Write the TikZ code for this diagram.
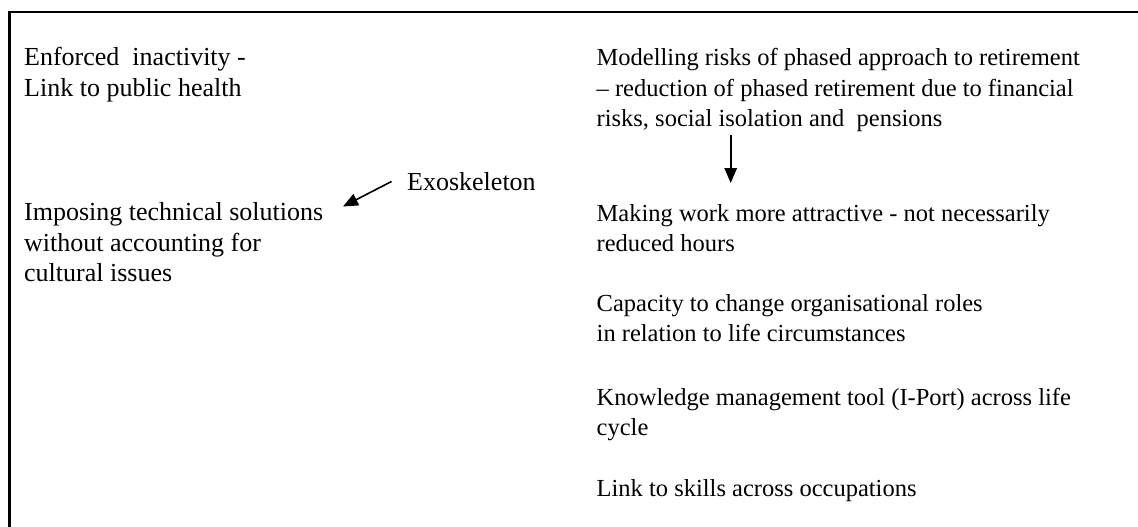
\documentclass[tikz,border=0pt]{standalone}
\usepackage{fontspec}
\setmainfont{Liberation Serif}
\usetikzlibrary{arrows.meta}
\tikzset{
  lefttxt/.style={anchor=base west, inner sep=0pt, font=\fontsize{26}{30.5}\selectfont},
  righttxt/.style={anchor=base west, inner sep=0pt, font=\fontsize{24.5}{30.5}\selectfont},
  conn/.style={line width=1.6pt, -{Triangle[length=15pt,width=12.5pt]}},
  frame/.style={line width=2.5pt}
}
\newcommand{\mlines}[1]{\begin{tabular}[t]{@{}l@{}}#1\end{tabular}}
\begin{document}
\begin{tikzpicture}[x=1pt,y=-1pt]
\useasboundingbox (0,0) rectangle (1138,527);
\begin{scope}
\clip (0,0) rectangle (1138,527);
\draw[frame] (9.5,12) rectangle (1160,550);
\end{scope}
% left column
\node[lefttxt] (enf) at (24,66) {\mlines{Enforced\ \ inactivity -\\Link to public health}};
\node[lefttxt] (imp) at (24,220.5) {\mlines{Imposing technical solutions\\without accounting for\\cultural issues}};
\node[lefttxt] (exo) at (407,190) {Exoskeleton};
% right column
\node[righttxt] (mod) at (596.5,66) {\mlines{Modelling risks of phased approach to retirement\\\textendash{} reduction of phased retirement due to financial\\risks, social isolation and\ \ pensions}};
\node[righttxt] (mak) at (596.5,221) {\mlines{Making work more attractive - not necessarily\\reduced hours}};
\node[righttxt] (cap) at (596.5,311) {\mlines{Capacity to change organisational roles\\in relation to life circumstances}};
\node[righttxt] (kno) at (596.5,405) {\mlines{Knowledge management tool (I-Port) across life\\cycle}};
\node[righttxt] (lnk) at (596.5,496) {Link to skills across occupations};
% connectors
\coordinate (modarr) at (730.7,135);
\coordinate (maktip) at (730.7,183);
\draw[conn] (modarr) -- (maktip);
\coordinate (exoarr) at (391.5,181.5);
\coordinate (imptip) at (343,206.5);
\draw[conn] (exoarr) -- (imptip);
\end{tikzpicture}
\end{document}
